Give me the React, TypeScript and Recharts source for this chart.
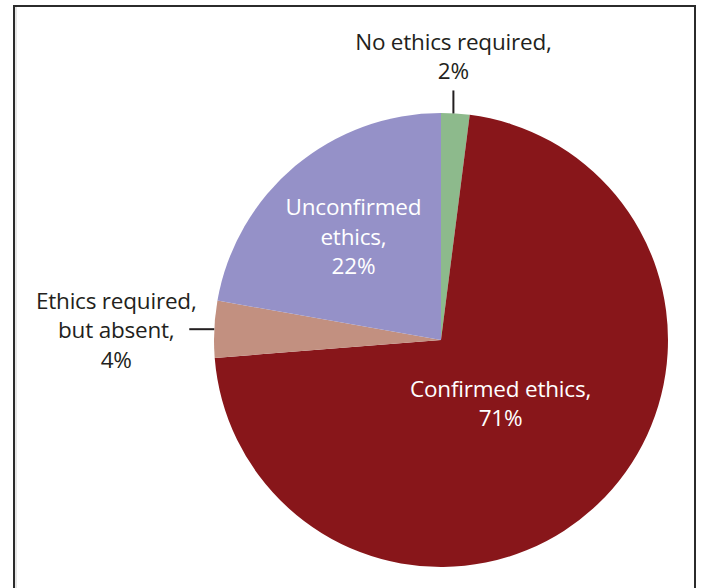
import { Cell, Pie, PieChart } from "recharts";

const categories = ["No ethics required", "Confirmed ethics", "Ethics required, but absent", "Unconfirmed ethics"];
const shares = [2, 71, 4, 22];
const colors = ["#8dba8c", "#88161a", "#c29080", "#9591c8"];
const labelLines = [
  ["No ethics required,", "2%"],
  ["Confirmed ethics,", "71%"],
  ["Ethics required,", "but absent,", "4%"],
  ["Unconfirmed", "ethics,", "22%"],
];

const data = categories.map((name, i) => ({ name, value: shares[i] }));

const RAD = Math.PI / 180;
const LINE_H = 29.5;
const FONT = "'Open Sans', 'Noto Sans', sans-serif";

// how each label sits relative to its slice
const placement = [
  { kind: "up", lead: 23, gap: 20 },
  { kind: "in", r: 0.38 },
  { kind: "left", lead: 25, gap: 18 },
  { kind: "in", r: 0.6 },
];

function renderLabel(props: any) {
  const { cx, cy, midAngle, outerRadius, index } = props;
  const p: any = placement[index];
  const lines = labelLines[index];
  const cos = Math.cos(-midAngle * RAD);
  const sin = Math.sin(-midAngle * RAD);
  const ex = cx + outerRadius * cos;
  const ey = cy + outerRadius * sin;
  const textProps = { fontFamily: FONT, fontSize: 22.5, textAnchor: "middle" as const, letterSpacing: -0.2 };

  if (p.kind === "in") {
    const tx = cx + outerRadius * p.r * cos;
    const ty = cy + outerRadius * p.r * sin;
    const y0 = ty - ((lines.length - 1) * LINE_H) / 2;
    return (
      <text {...textProps} fill="#ffffff" dominantBaseline="central">
        {lines.map((l, k) => (
          <tspan key={k} x={tx} y={y0 + k * LINE_H}>{l}</tspan>
        ))}
      </text>
    );
  }
  if (p.kind === "up") {
    const top = ey - p.lead;
    const lastY = top - p.gap;
    return (
      <g>
        <line x1={ex - 2} y1={ey} x2={ex - 2} y2={top} stroke="#231f20" strokeWidth={2} />
        <text {...textProps} fill="#231f20" dominantBaseline="central">
          {lines.map((l, k) => (
            <tspan key={k} x={ex - 2} y={lastY - (lines.length - 1 - k) * LINE_H}>{l}</tspan>
          ))}
        </text>
      </g>
    );
  }
  const lx = ex - p.lead;
  const tx = lx - p.gap - 55;
  const y0 = ey - ((lines.length - 1) * LINE_H) / 2;
  return (
    <g>
      <line x1={ex} y1={ey} x2={lx} y2={ey} stroke="#231f20" strokeWidth={2} />
      <text {...textProps} fill="#231f20" dominantBaseline="central">
        {lines.map((l, k) => (
          <tspan key={k} x={tx} y={y0 + k * LINE_H}>{l}</tspan>
        ))}
      </text>
    </g>
  );
}

export default function App() {
  return (
    <div style={{ position: "absolute", left: 0, top: 0, width: 701, height: 588, overflow: "hidden", background: "#fff" }}>
      <div
        style={{
          position: "absolute",
          left: 13,
          top: 5,
          width: 679,
          height: 620,
          border: "2px solid #2b2b2b",
          boxShadow: "2px 0 0 #e6e6e6 inset",
        }}
      />
      <div style={{ position: "absolute", left: 0, top: 0 }}>
        <PieChart width={701} height={588} margin={{ top: 0, right: 0, bottom: 0, left: 0 }}>
          <Pie
            data={data}
            dataKey="value"
            cx={441}
            cy={340}
            outerRadius={227}
            startAngle={90}
            endAngle={-270}
            stroke="none"
            label={renderLabel}
            labelLine={false}
            isAnimationActive={false}
          >
            {data.map((d, i) => (
              <Cell key={d.name} fill={colors[i]} />
            ))}
          </Pie>
        </PieChart>
      </div>
    </div>
  );
}
